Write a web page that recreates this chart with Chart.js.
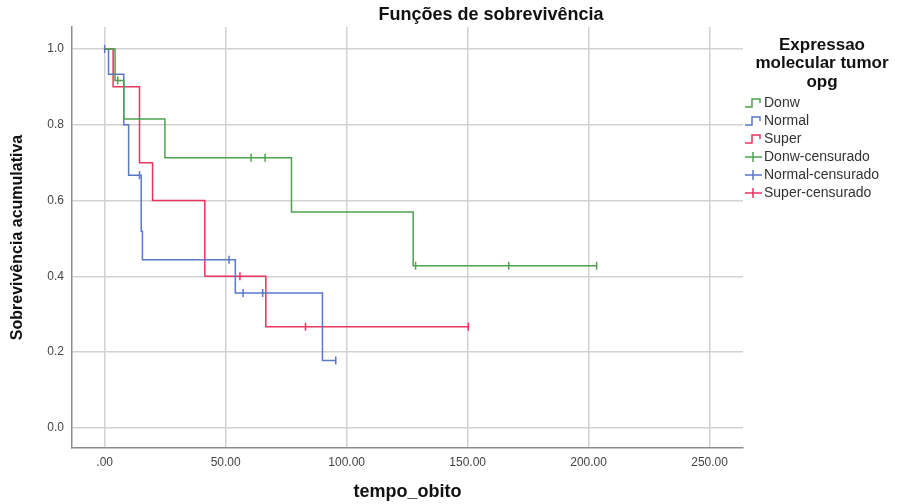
<!DOCTYPE html>
<html>
<head>
<meta charset="utf-8">
<script src="https://cdn.jsdelivr.net/npm/chart.js@4.4.1/dist/chart.umd.min.js"></script>
<style>
  html, body { margin: 0; padding: 0; background: #fff; }
</style>
</head>
<body>
<canvas id="km" width="905" height="504"></canvas>
<script>
// ── Kaplan-Meier survival by OPG tumour expression ──────────────────────────
// Each group: times where the curve steps, survival after that step.
const donwTimes   = [0, 4.3, 7.9, 24.9, 77.2, 127.5, 203.3];
const donwSurv    = [1.0, 0.917, 0.815, 0.713, 0.570, 0.428, 0.428];
const normalTimes = [0, 1.6, 7.9, 9.9, 15.1, 15.6, 54.0, 90.0, 95.5];
const normalSurv  = [1.0, 0.933, 0.800, 0.667, 0.519, 0.444, 0.356, 0.178, 0.178];
const superTimes  = [0, 3.5, 14.4, 19.8, 41.4, 66.6, 150.3];
const superSurv   = [1.0, 0.900, 0.700, 0.600, 0.400, 0.267, 0.267];

// censored observations
const donwCensT   = [5.4, 60.5, 66.3, 128.5, 167.0, 203.3];
const donwCensS   = [0.917, 0.713, 0.713, 0.428, 0.428, 0.428];
const normalCensT = [0, 14.4, 51.4, 57.2, 65.3, 95.5];
const normalCensS = [1.0, 0.667, 0.444, 0.356, 0.356, 0.178];
const superCensT  = [55.9, 83.0, 150.3];
const superCensS  = [0.400, 0.267, 0.267];

const groupColors = ['#4ea24e', '#5a78c8', '#e8345e'];
const legendTitle = ['Expressao', 'molecular tumor', 'opg'];
const chartTitle  = 'Funções de sobrevivência';

const SANS = "'Liberation Sans',Arial,sans-serif";

function toPoints(times, vals) {
    return times.map((t, i) => ({ x: t, y: vals[i] }));
}

// 'before' keeps the old value until the next time, then drops
function stepLine(label, times, vals, color) {
    return {
        type: 'line',
        label,
        data: toPoints(times, vals),
        stepped: 'before',
        borderColor: color,
        borderWidth: 1.5,
        pointRadius: 0,
        fill: false
    };
}

function censorMarks(label, times, vals, color) {
    return {
        type: 'scatter',
        label,
        data: toPoints(times, vals),
        pointStyle: 'line',
        rotation: 90,
        pointRadius: 4,
        borderColor: color,
        backgroundColor: color,
        borderWidth: 1.5,
        showLine: false
    };
}

const datasets = [
    stepLine('Donw', donwTimes, donwSurv, groupColors[0]),
    stepLine('Normal', normalTimes, normalSurv, groupColors[1]),
    stepLine('Super', superTimes, superSurv, groupColors[2]),
    censorMarks('Donw-censurado', donwCensT, donwCensS, groupColors[0]),
    censorMarks('Normal-censurado', normalCensT, normalCensS, groupColors[1]),
    censorMarks('Super-censurado', superCensT, superCensS, groupColors[2])
];

// title and the SPSS-style legend on the right
const decorations = {
    id: 'decorations',
    afterDraw(chart) {
        const ctx = chart.ctx;
        ctx.save();
        ctx.textBaseline = 'middle';

        ctx.fillStyle = '#111';
        ctx.textAlign = 'center';
        ctx.font = 'bold 18px ' + SANS;
        ctx.fillText(chartTitle, 491, 15);

        ctx.font = 'bold 17px ' + SANS;
        legendTitle.forEach((line, i) => ctx.fillText(line, 822, 45 + i * 18.5));

        ctx.textAlign = 'left';
        ctx.font = '14px ' + SANS;
        chart.data.datasets.forEach((ds, i) => {
            const y = 103 + i * 18;
            ctx.strokeStyle = ds.borderColor;
            ctx.lineWidth = 1.5;
            ctx.beginPath();
            if (ds.type === 'line') {
                ctx.moveTo(745, y + 4);
                ctx.lineTo(752, y + 4);
                ctx.lineTo(752, y - 4);
                ctx.lineTo(760, y - 4);
                ctx.lineTo(760, y);
            } else {
                ctx.moveTo(745, y);
                ctx.lineTo(762, y);
                ctx.moveTo(753, y - 5);
                ctx.lineTo(753, y + 5);
            }
            ctx.stroke();
            ctx.fillStyle = '#333';
            ctx.fillText(ds.label, 764, y);
        });
        ctx.restore();
    }
};

new Chart(document.getElementById('km'), {
    data: { datasets },
    plugins: [decorations],
    options: {
        responsive: false,
        animation: false,
        layout: { padding: { left: 0, top: 27, right: 162, bottom: 0 } },
        plugins: {
            legend: { display: false },
            title: { display: false },
            tooltip: { enabled: false }
        },
        scales: {
            x: {
                type: 'linear',
                min: -13.5,
                max: 263.8,
                afterFit: s => { s.height = 56; },
                ticks: {
                    stepSize: 50,
                    includeBounds: false,
                    padding: 7,
                    maxRotation: 0,
                    color: '#444',
                    font: { family: SANS, size: 12 },
                    callback: v => v === 0 ? '.00' : v.toFixed(2)
                },
                grid: { color: '#d2d2d2', lineWidth: 1.5, drawTicks: false },
                border: { color: '#8c8c8c', width: 1.5 },
                title: {
                    display: true,
                    text: 'tempo_obito',
                    color: '#111',
                    font: { family: SANS, size: 18, weight: 'bold' },
                    padding: { top: 0, bottom: 1 }
                }
            },
            y: {
                type: 'linear',
                min: -0.053,
                max: 1.058,
                afterFit: s => { s.width = 72; },
                ticks: {
                    stepSize: 0.2,
                    includeBounds: false,
                    padding: 8,
                    color: '#444',
                    font: { family: SANS, size: 12 },
                    callback: v => v.toFixed(1)
                },
                grid: { color: '#d2d2d2', lineWidth: 1.5, drawTicks: false },
                border: { color: '#8c8c8c', width: 1.5 },
                title: {
                    display: true,
                    text: 'Sobrevivência acumulativa',
                    color: '#111',
                    font: { family: SANS, size: 16, weight: 'bold' },
                    padding: { top: 8, bottom: 0 }
                }
            }
        }
    }
});
</script>
</body>
</html>
